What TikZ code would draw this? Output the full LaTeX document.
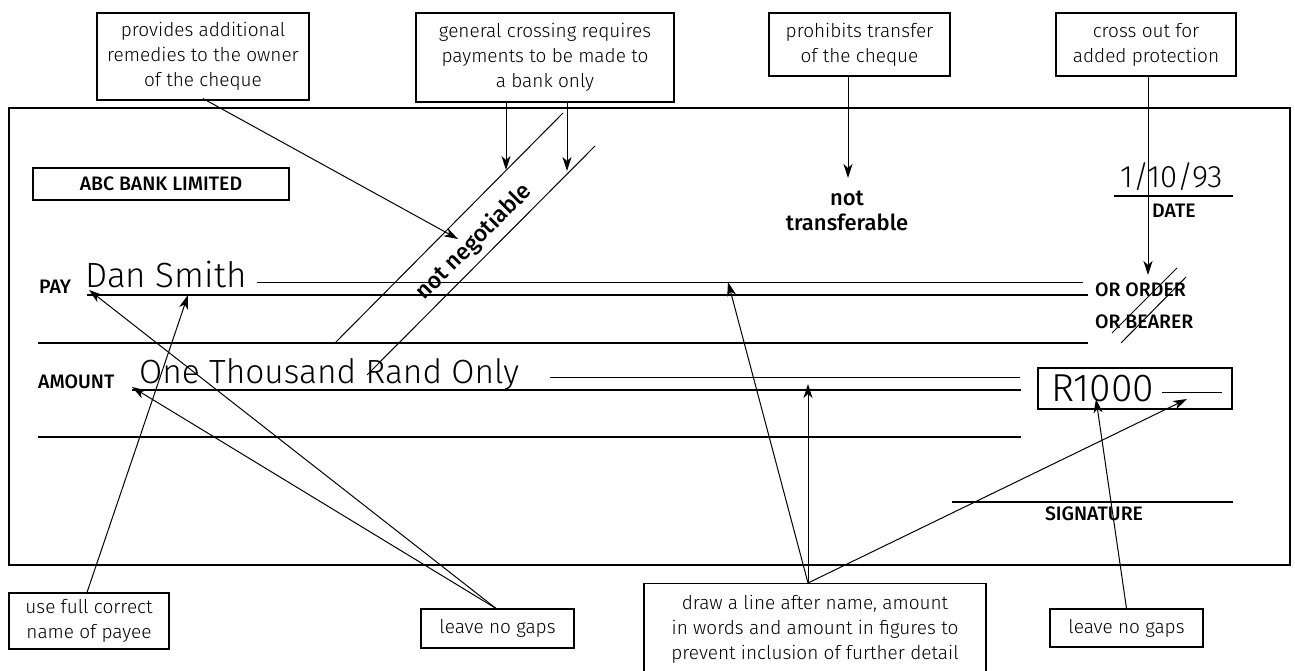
\documentclass[tikz,border=0pt]{standalone}
\usepackage{fontspec}
\setmainfont{Fira Sans Light}
\newfontfamily\lightf{Fira Sans Light}
\newfontfamily\regf{Fira Sans}
\newfontfamily\medf{Fira Sans Medium}
\usetikzlibrary{arrows.meta}
\tikzset{
  note/.style={draw, line width=1.1pt, align=center, inner sep=0pt, font=\lightf\fontsize{19}{25}\selectfont},
  lbl/.style={font=\medf\fontsize{19.5}{22}\selectfont, inner sep=0pt},
  hand/.style={font=\lightf\fontsize{35}{38}\selectfont, inner sep=0pt},
  thick line/.style={line width=2.4pt},
  thin line/.style={line width=1pt},
  arr/.style={line width=1pt, -{Stealth[length=14pt,width=9pt,inset=4pt]}},
}
\begin{document}
\begin{tikzpicture}[x=1pt,y=-1pt]
\useasboundingbox (0,0) rectangle (1295,671);
% cheque
\draw[line width=2.6pt] (9,108) rectangle (1290,565);
% annotation boxes
\node[note, minimum width=212pt, minimum height=87pt] (prov) at (203,56.5) {provides additional\\remedies to the owner\\of the cheque};
\node[note, minimum width=258pt, minimum height=89pt] (gen) at (545,57.5) {general crossing requires\\payments to be made to\\a bank only};
\node[note, minimum width=181pt, minimum height=63pt] (proh) at (859.5,44.5) {prohibits transfer\\of the cheque};
\node[note, minimum width=180pt, minimum height=63pt] (cross) at (1146,44.5) {cross out for\\added protection};
\node[note, minimum width=160pt, minimum height=56pt] (usefull) at (89,621) {use full correct\\name of payee};
\node[note, minimum width=153pt, minimum height=39pt] (lng1) at (497.5,628.5) {leave no gaps};
\node[note, minimum width=153pt, minimum height=38pt] (lng2) at (1126.5,628) {leave no gaps};
\node[note, minimum width=342pt, minimum height=92pt, anchor=north] (drawbox) at (815,583) {draw a line after name, amount\\in words and amount in figures to\\prevent inclusion of further detail};
% bank name
\node[draw, line width=2pt, minimum width=256pt, minimum height=32pt, lbl] (abc) at (161,184) {ABC BANK LIMITED};
% lines
\draw[thick line] (87,295) -- (1088,295);
\draw[thin line] (257,282) -- (1083,282);
\draw[thick line] (38,343) -- (1088,343);
\draw[thick line] (132,390) -- (1021,390);
\draw[thin line] (550,377) -- (1020,377);
\draw[thick line] (38,437) -- (1021,437);
\draw[thick line] (952,502) -- (1233,502);
\draw[thick line] (1114,196) -- (1233,196);
% texts
\node[lbl, anchor=west] (pay) at (39,287) {PAY};
\node[hand, anchor=base west] (dan) at (85,287) {Dan Smith};
\node[lbl, anchor=west] (amount) at (38,382) {AMOUNT};
\node[hand, font=\lightf\fontsize{33.5}{36}\selectfont, anchor=base west] (words) at (139,383) {One Thousand Rand Only};
\node[hand, font=\lightf\fontsize{31}{34}\selectfont, anchor=base west] (date) at (1120,188) {1/10/93};
\node[lbl, anchor=west] (datelbl) at (1152,211) {DATE};
\node[lbl, anchor=west] (order) at (1095,290) {OR ORDER};
\node[lbl, anchor=west] (bearer) at (1095,322) {OR BEARER};
\node[lbl] (sig) at (1094,514) {SIGNATURE};
\node[lbl, font=\medf\fontsize{22}{25}\selectfont, align=center] (nt) at (847,211) {not\\transferable};
% R1000 box
\draw[line width=2pt] (1038,368) rectangle (1232,409);
\node[hand, font=\lightf\fontsize{39}{42}\selectfont, anchor=base west] (fig) at (1051,401) {R1000};
\draw[thin line] (1162,392) -- (1222,392);
% crossing
\draw[thin line] (335,343) -- (563,113);
\draw[thin line] (367,375) -- (595,146);
\node[lbl, font=\medf\fontsize{23}{25}\selectfont, rotate=45] (nn) at (474,242) {not negotiable};
% cross-out lines
\draw[thin line] (1112,333) -- (1177,268);
\draw[thin line] (1121,343) -- (1186,277);
% arrow targets
\coordinate (tProv) at (458,239);
\coordinate (tGen1) at (506,170);
\coordinate (tGen2) at (567,171);
\coordinate (tProh) at (848,178);
\coordinate (tCross) at (1148,275);
\coordinate (tName) at (188,295);
\coordinate (tPay) at (89,290);
\coordinate (tAmt) at (132,387);
\coordinate (tLineN) at (728,282);
\coordinate (tLineA) at (808,384);
\coordinate (tLineF) at (1187,399);
\coordinate (tFig) at (1096,399);
% arrows
\draw[arr] (prov.south) ++(0,-2) -- (tProv);
\draw[arr] (gen.south -| tGen1) -- (tGen1);
\draw[arr] (gen.south -| tGen2) -- (tGen2);
\draw[arr] (proh.south -| tProh) -- (tProh);
\draw[arr] (cross.south -| tCross) -- (tCross);
\draw[arr] (usefull.north -| 87,0) -- (tName);
\draw[arr] (lng1.north -| 496,0) -- (tPay);
\draw[arr] (lng1.north -| 496,0) -- (tAmt);
\draw[arr] (drawbox.north -| 808,0) -- (tLineN);
\draw[arr] (drawbox.north -| 808,0) -- (tLineA);
\draw[arr] (drawbox.north -| 808,0) -- (tLineF);
\draw[arr] (lng2.north) -- (tFig);
\end{tikzpicture}
\end{document}
